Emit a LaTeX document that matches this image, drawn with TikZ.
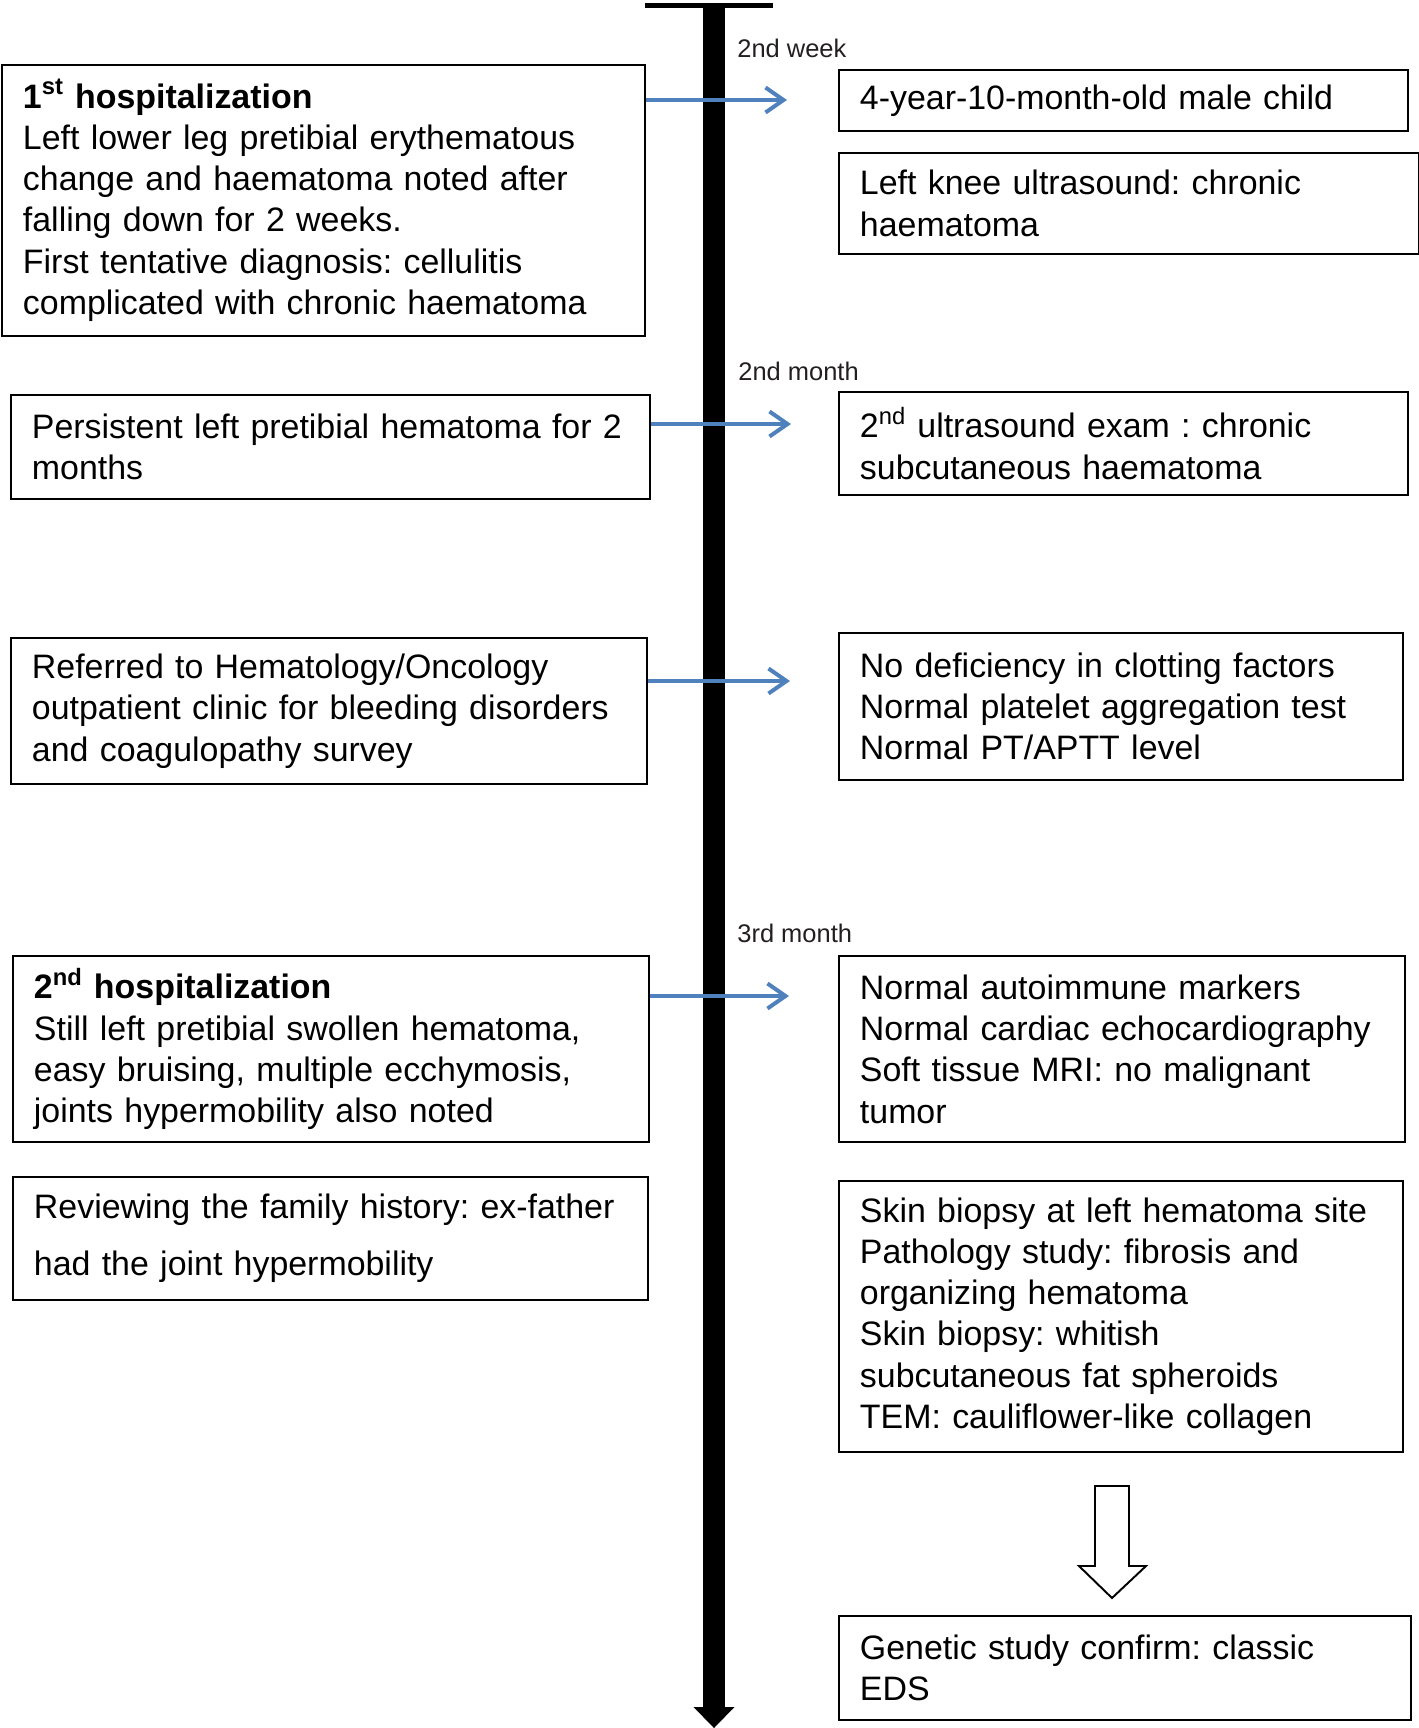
\documentclass[tikz,border=0pt]{standalone}
\usepackage{fontspec}
\setmainfont{Liberation Sans}
\usetikzlibrary{positioning,arrows.meta}
\definecolor{tlblue}{RGB}{79,129,189}
\definecolor{tllabel}{RGB}{35,31,32}
\frenchspacing
\hyphenpenalty=10000
\exhyphenpenalty=10000
\tikzset{
  evbox/.style={draw, line width=1.1pt, align=left, anchor=north west, inner xsep=0.42cm, inner ysep=0pt, font=\fontsize{19.3}{23.5}\selectfont},
  tlarrow/.style={tlblue, line width=0.08cm, -{Straight Barb[length=0.36cm,width=0.5cm]}},
  tlmark/.style={anchor=west, inner sep=0pt, text=tllabel, font=\fontsize{14.5}{17}\selectfont}
}

\begin{document}
\begin{tikzpicture}[x=0.02cm,y=-0.02cm]
                \useasboundingbox (0,0) rectangle (1419,1728);
                \coordinate (tltop) at (714,5);
                \coordinate (tlbot) at (714,1728);
                \draw[line width=0.44cm, -{Triangle[width=0.82cm,length=0.42cm,line width=0pt]}] (tltop) -- (tlbot);
                \draw[line width=0.1cm] (645,5) -- (773,5);
                \node[tlmark] (wk2) at (737,48) {2nd week};
                \node[tlmark] (mo2) at (738,371) {2nd month};
                \node[tlmark] (mo3) at (737,933) {3rd month};
                \node[evbox, text width=12.02cm, minimum height=5.42cm] (b1) at (1,64)
                    {\textbf{1\textsuperscript{st} hospitalization}\\Left lower leg pretibial erythematous\\change and haematoma noted after\\falling down for 2 weeks.\\First tentative diagnosis: cellulitis\\complicated with chronic haematoma};
                \node[evbox, text width=11.94cm, minimum height=2.08cm] (b2) at (10,394)
                    {Persistent left pretibial hematoma for~2\\months};
                \node[evbox, text width=11.88cm, minimum height=2.92cm] (b3) at (10,637)
                    {Referred to Hematology/Oncology\\outpatient clinic for bleeding disorders\\and coagulopathy survey};
                \node[evbox, text width=11.88cm, minimum height=3.72cm] (b4) at (12,955)
                    {\textbf{2\textsuperscript{nd} hospitalization}\\Still left pretibial swollen hematoma,\\easy bruising, multiple ecchymosis,\\joints hypermobility also noted};
                \node[evbox, text width=11.86cm, minimum height=2.46cm, font=\fontsize{19.3}{32.4}\selectfont] (b5) at (12,1176)
                    {Reviewing the family history: ex-father\\had the joint hypermobility};
                \node[evbox, text width=10.54cm, minimum height=1.22cm] (r1) at (838,69)
                    {4-year-10-month-old male child};
                \node[evbox, text width=10.76cm, minimum height=2.02cm] (r2) at (838,152)
                    {Left knee ultrasound: chronic\\haematoma};
                \node[evbox, text width=10.54cm, minimum height=2.06cm] (r3) at (838,391)
                    {2\textsuperscript{nd} ultrasound exam : chronic\\subcutaneous haematoma};
                \node[evbox, text width=10.44cm, minimum height=2.94cm] (r4) at (838,632)
                    {No deficiency in clotting factors\\Normal platelet aggregation test\\Normal PT/APTT level};
                \node[evbox, text width=10.48cm, minimum height=3.72cm] (r5) at (838,955)
                    {Normal autoimmune markers\\Normal cardiac echocardiography\\Soft tissue MRI: no malignant\\tumor};
                \node[evbox, text width=10.44cm, minimum height=5.42cm] (r6) at (838,1180)
                    {Skin biopsy at left hematoma site\\Pathology study: fibrosis and\\organizing hematoma\\Skin biopsy: whitish\\subcutaneous fat spheroids\\TEM: cauliflower-like collagen};
                \node[evbox, text width=10.60cm, minimum height=2.08cm] (r7) at (838,1615)
                    {Genetic study confirm: classic\\EDS};
                \coordinate (e1) at (787,100);
                \coordinate (e2) at (791,424);
                \coordinate (e3) at (790,681);
                \coordinate (e4) at (789,996);
                \foreach \s/\e in {b1/e1,b2/e2,b3/e3,b4/e4}
                    \draw[tlarrow] (\s.east |- \e) -- (\e);
                \draw[line width=1.1pt] (1095,1486) -- (1129,1486) -- (1129,1566) -- (1146,1566)
                    -- (1112,1598) -- (1079,1566) -- (1095,1566) -- cycle;
\end{tikzpicture}
\end{document}
